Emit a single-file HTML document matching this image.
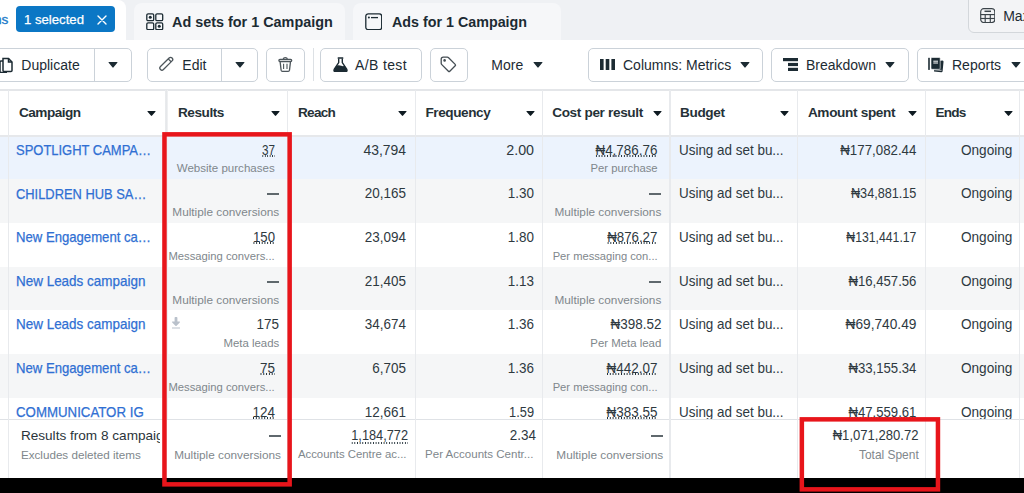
<!DOCTYPE html>
<html><head><meta charset="utf-8"><style>
html,body{margin:0;padding:0;}
body{width:1024px;height:493px;overflow:hidden;position:relative;background:#fff;font-family:"Liberation Sans", sans-serif;}
.a{position:absolute;white-space:nowrap;}
</style></head><body>
<div class="a" style="left:0px;top:0px;width:1024px;height:40px;background:#eff1f4;"></div>
<div class="a" style="left:0px;top:0px;width:126px;height:40px;background:#fff;border-top-right-radius:8px;"></div>
<div class="a " style="right:1015.7px;top:11.53px;font-size:13.6px;line-height:16.32px;color:#1877c8;-webkit-text-stroke:0.3px #1877c8;">ns</div>
<div class="a" style="left:16px;top:6px;width:99px;height:26px;background:#0b77c5;border-radius:4px;"></div>
<div class="a " style="left:24.1px;top:11.53px;font-size:13.6px;line-height:16.32px;color:#fff;-webkit-text-stroke:0.25px #fff;transform:scaleX(0.9679);transform-origin:left top;">1 selected</div>
<svg class="a" style="left:97px;top:15px" width="10" height="10" viewBox="0 0 10 10"><path d="M1 1L9 9M9 1L1 9" stroke="#fff" stroke-width="1.4" stroke-linecap="round"/></svg>
<div class="a" style="left:134px;top:2.5px;width:211.3px;height:37.5px;background:#f6f7f9;border-top-left-radius:8px;border-top-right-radius:8px;"></div>
<div class="a" style="left:353px;top:3px;width:208px;height:37px;background:#f6f7f9;border-top-left-radius:8px;border-top-right-radius:8px;"></div>
<svg class="a" style="left:146px;top:12.7px" width="17.5" height="17.5" viewBox="0 0 17.5 17.5" fill="none" stroke="#1c2b33" stroke-width="1.3"><rect x="0.8" y="0.8" width="6.9" height="6.9" rx="1.3"/><rect x="9.8" y="0.8" width="6.9" height="6.9" rx="1.3"/><rect x="0.8" y="9.8" width="6.9" height="6.9" rx="1.3"/><rect x="9.8" y="9.8" width="6.9" height="6.9" rx="1.3"/><circle cx="4.25" cy="4.25" r="1.5" fill="#1c2b33" stroke="none"/><circle cx="13.25" cy="13.25" r="1.5" fill="#1c2b33" stroke="none"/></svg>
<div class="a " style="left:172.4px;top:13.2px;font-size:15px;line-height:18.0px;color:#1c2b33;font-weight:bold;transform:scaleX(0.9599);transform-origin:left top;">Ad sets for 1 Campaign</div>
<svg class="a" style="left:364.8px;top:12.7px" width="17.5" height="17.5" viewBox="0 0 17.5 17.5" fill="none" stroke="#1c2b33" stroke-width="1.3"><rect x="0.8" y="0.8" width="15.9" height="15.9" rx="2.5"/><line x1="6" y1="4.6" x2="13" y2="4.6"/><circle cx="3.9" cy="4.6" r="1" fill="#1c2b33" stroke="none"/></svg>
<div class="a " style="left:391.5px;top:13.2px;font-size:15px;line-height:18.0px;color:#1c2b33;font-weight:bold;transform:scaleX(0.9529);transform-origin:left top;">Ads for 1 Campaign</div>
<div class="a" style="left:968.3px;top:-6px;width:70px;height:38.5px;background:#f3f4f6;border:1px solid #d3d7db;border-radius:6px;box-sizing:border-box;"></div>
<svg class="a" style="left:979.5px;top:7.8px" width="15.5" height="15.2" viewBox="0 0 15.5 15.2" fill="none" stroke="#3b444a" stroke-width="1.15"><rect x="0.7" y="0.7" width="14.1" height="13.8" rx="3"/><line x1="4.5" y1="3.3" x2="11" y2="3.3" stroke-width="1.5"/><line x1="0.7" y1="6.6" x2="14.8" y2="6.6"/><line x1="0.7" y1="10.5" x2="14.8" y2="10.5"/><line x1="5.2" y1="6.6" x2="5.2" y2="14.5"/><line x1="10.3" y1="6.6" x2="10.3" y2="14.5"/></svg>
<div class="a " style="left:1003.2px;top:8.35px;font-size:14px;line-height:16.8px;color:#1c2b33;">Max</div>
<div class="a" style="left:0px;top:40px;width:1024px;height:49px;background:#fff;"></div>
<div class="a" style="left:-10px;top:48px;width:141.6px;height:33.5px;border:1px solid #cbd2d9;border-radius:5px;box-sizing:border-box;background:#fff;"></div>
<div class="a" style="left:94px;top:48px;width:1px;height:33.5px;background:#cbd2d9;"></div>
<svg class="a" style="left:-2px;top:56px" width="16" height="17" viewBox="0 0 16 17" fill="none" stroke="#1c2b33" stroke-width="1.5"><path d="M5 2.5H10.5L14 6V14.5a1 1 0 0 1-1 1H6a1 1 0 0 1-1-1Z"/><path d="M10.5 2.5V6H14"/><path d="M5 5H3a1 1 0 0 0-1 1V15.5a1 1 0 0 0 1 1H9"/></svg>
<div class="a " style="left:21.3px;top:57.05px;font-size:14px;line-height:16.8px;color:#1c2b33;">Duplicate</div>
<svg class="a" style="left:108px;top:61.7px" width="10" height="6" viewBox="0 0 10 6"><path d="M1 0H9Q10 0 9.3 0.8L5.6 5.3Q5 6 4.4 5.3L0.7 0.8Q0 0 1 0Z" fill="#1c2b33"/></svg>
<div class="a" style="left:147.2px;top:48px;width:111.1px;height:33.5px;border:1px solid #cbd2d9;border-radius:5px;box-sizing:border-box;background:#fff;"></div>
<div class="a" style="left:221px;top:48px;width:1px;height:33.5px;background:#cbd2d9;"></div>
<svg class="a" style="left:158.4px;top:56px" width="16" height="16" viewBox="0 0 16 16" fill="none" stroke="#4d565b" stroke-width="1.3"><g transform="rotate(45 8 8)"><rect x="5.9" y="-0.6" width="4.2" height="16.4" rx="2.1"/><line x1="5.9" y1="2.8" x2="10.1" y2="2.8"/></g></svg>
<div class="a " style="left:182.3px;top:57.05px;font-size:14px;line-height:16.8px;color:#1c2b33;">Edit</div>
<svg class="a" style="left:235px;top:61.7px" width="10" height="6" viewBox="0 0 10 6"><path d="M1 0H9Q10 0 9.3 0.8L5.6 5.3Q5 6 4.4 5.3L0.7 0.8Q0 0 1 0Z" fill="#1c2b33"/></svg>
<div class="a" style="left:266px;top:48px;width:38.6px;height:33.5px;border:1px solid #cbd2d9;border-radius:5px;box-sizing:border-box;background:#fff;"></div>
<svg class="a" style="left:278px;top:57px" width="15" height="15" viewBox="0 0 15 15" fill="none" stroke="#4d565b" stroke-width="1.3" stroke-linejoin="round"><path d="M5.3 2.2Q5.5 0.7 7.3 0.7Q9.1 0.7 9.3 2.2"/><rect x="0.9" y="2.3" width="12.8" height="2.2" rx="1.1"/><path d="M2.1 4.6L3.1 13.2Q3.3 14.3 4.4 14.3H10.2Q11.3 14.3 11.5 13.2L12.5 4.6"/><path d="M5.6 6.8V12M9 6.8V12" stroke-width="1.1"/></svg>
<div class="a" style="left:313px;top:48px;width:1px;height:33px;background:#dde1e5;"></div>
<div class="a" style="left:320.4px;top:48px;width:101.4px;height:33.5px;border:1px solid #cbd2d9;border-radius:5px;box-sizing:border-box;background:#fff;"></div>
<svg class="a" style="left:333px;top:57px" width="15" height="15" viewBox="0 0 15 15"><rect x="4.6" y="0.2" width="5.8" height="1.6" rx="0.5" fill="#1c2b33"/><path d="M5.7 1.5V5.6L1.2 12.4Q0.4 14.6 2.6 14.6H12.4Q14.6 14.6 13.8 12.4L9.3 5.6V1.5" fill="none" stroke="#1c2b33" stroke-width="1.4"/><path d="M3.6 8.6Q6 7.6 8.2 8.8Q10 9.6 11.7 8.8L13.8 12.4Q14.6 14.6 12.4 14.6H2.6Q0.4 14.6 1.2 12.4Z" fill="#1c2b33"/></svg>
<div class="a " style="left:355.1px;top:57.05px;font-size:14px;line-height:16.8px;color:#1c2b33;letter-spacing:0.35px;">A/B test</div>
<div class="a" style="left:430.3px;top:48px;width:37.5px;height:33.5px;border:1px solid #cbd2d9;border-radius:5px;box-sizing:border-box;background:#fff;"></div>
<svg class="a" style="left:440.3px;top:56.3px" width="17" height="17" viewBox="0 0 17 17" fill="none" stroke="#444d53" stroke-width="1.3" stroke-linejoin="round"><path d="M1.2 3.2Q1.2 1.2 3.2 1.2H7.3Q8 1.2 8.6 1.8L15.2 8.4Q15.9 9.1 15.2 9.8L9.8 15.2Q9.1 15.9 8.4 15.2L1.8 8.6Q1.2 8 1.2 7.3Z"/><circle cx="4.6" cy="4.4" r="1.3" fill="#444d53" stroke="none"/></svg>
<div class="a " style="left:491.3px;top:57.05px;font-size:14px;line-height:16.8px;color:#1c2b33;">More</div>
<svg class="a" style="left:533px;top:61.7px" width="10" height="6" viewBox="0 0 10 6"><path d="M1 0H9Q10 0 9.3 0.8L5.6 5.3Q5 6 4.4 5.3L0.7 0.8Q0 0 1 0Z" fill="#1c2b33"/></svg>
<div class="a" style="left:588.2px;top:48px;width:174.4px;height:33.5px;border:1px solid #cbd2d9;border-radius:5px;box-sizing:border-box;background:#fff;"></div>
<svg class="a" style="left:600px;top:59px" width="15" height="11" viewBox="0 0 15 11"><rect x="0" y="0" width="3.6" height="11" fill="#1c2b33"/><rect x="5.7" y="0" width="3.6" height="11" fill="#1c2b33"/><rect x="11.4" y="0" width="3.6" height="11" fill="#1c2b33"/></svg>
<div class="a " style="left:623px;top:57.05px;font-size:14px;line-height:16.8px;color:#1c2b33;">Columns: Metrics</div>
<svg class="a" style="left:739.5px;top:61.7px" width="10" height="6" viewBox="0 0 10 6"><path d="M1 0H9Q10 0 9.3 0.8L5.6 5.3Q5 6 4.4 5.3L0.7 0.8Q0 0 1 0Z" fill="#1c2b33"/></svg>
<div class="a" style="left:771px;top:48px;width:137.8px;height:33.5px;border:1px solid #cbd2d9;border-radius:5px;box-sizing:border-box;background:#fff;"></div>
<svg class="a" style="left:782.5px;top:58px" width="15" height="13" viewBox="0 0 15 13"><rect x="0" y="0" width="15" height="3.2" fill="#1c2b33"/><rect x="5" y="4.9" width="10" height="3.2" fill="#1c2b33"/><rect x="5" y="9.8" width="10" height="3.2" fill="#1c2b33"/></svg>
<div class="a " style="left:805.9px;top:57.05px;font-size:14px;line-height:16.8px;color:#1c2b33;">Breakdown</div>
<svg class="a" style="left:885.3px;top:61.7px" width="10" height="6" viewBox="0 0 10 6"><path d="M1 0H9Q10 0 9.3 0.8L5.6 5.3Q5 6 4.4 5.3L0.7 0.8Q0 0 1 0Z" fill="#1c2b33"/></svg>
<div class="a" style="left:917.3px;top:48px;width:120px;height:33.5px;border:1px solid #cbd2d9;border-radius:5px;box-sizing:border-box;background:#fff;"></div>
<svg class="a" style="left:928px;top:56.5px" width="16" height="16" viewBox="0 0 16 16"><path d="M6.5 4.5L14.5 3.5Q15.8 3.6 15.5 5L14.6 14.3Q14.4 15.3 13.3 15.2L6 14.6Z" fill="#1c2b33"/><path d="M5 12.6L13.5 13.3" stroke="#fff" stroke-width="0.8"/><rect x="0.2" y="0.7" width="1.6" height="12.2" rx="0.4" fill="#1c2b33"/><rect x="3" y="0.5" width="9.2" height="11.8" rx="1" fill="#1c2b33" stroke="#fff" stroke-width="0.6"/><path d="M5.3 4.2H10M5.3 6H10" stroke="#fff" stroke-width="1"/></svg>
<div class="a " style="left:952px;top:57.05px;font-size:14px;line-height:16.8px;color:#1c2b33;">Reports</div>
<svg class="a" style="left:1011.4px;top:61.7px" width="10" height="6" viewBox="0 0 10 6"><path d="M1 0H9Q10 0 9.3 0.8L5.6 5.3Q5 6 4.4 5.3L0.7 0.8Q0 0 1 0Z" fill="#1c2b33"/></svg>
<div class="a" style="left:0px;top:89px;width:1024px;height:2px;background:#e4e6e9;"></div>
<div class="a" style="left:0px;top:136.6px;width:1024px;height:42.1px;background:#ecf3fd;"></div>
<div class="a" style="left:0px;top:178.7px;width:1024px;height:44.0px;background:#f5f6f7;"></div>
<div class="a" style="left:0px;top:222.7px;width:1024px;height:44.1px;background:#fff;"></div>
<div class="a" style="left:0px;top:266.8px;width:1024px;height:43.7px;background:#f5f6f7;"></div>
<div class="a" style="left:0px;top:310.5px;width:1024px;height:43.9px;background:#fff;"></div>
<div class="a" style="left:0px;top:354.4px;width:1024px;height:43.7px;background:#f5f6f7;"></div>
<div class="a" style="left:0px;top:398.1px;width:1024px;height:20.9px;background:#fff;"></div>
<div class="a" style="left:0px;top:134.9px;width:1024px;height:1.8px;background:#e6e8eb;"></div>
<div class="a" style="left:7.800000000000001px;top:90px;width:1.2px;height:388px;background:#e8eaed;"></div>
<div class="a" style="left:165.2px;top:90px;width:3px;height:388px;background:linear-gradient(90deg,#eceef0,#e3e5e8 40%,#f3f4f5);"></div>
<div class="a" style="left:286.79999999999995px;top:90px;width:1.2px;height:388px;background:#e8eaed;"></div>
<div class="a" style="left:414.59999999999997px;top:90px;width:1.2px;height:388px;background:#e8eaed;"></div>
<div class="a" style="left:542.0px;top:90px;width:1.2px;height:388px;background:#e8eaed;"></div>
<div class="a" style="left:669.4px;top:90px;width:1.2px;height:388px;background:#e8eaed;"></div>
<div class="a" style="left:796.9px;top:90px;width:1.2px;height:388px;background:#e8eaed;"></div>
<div class="a" style="left:924.6999999999999px;top:90px;width:1.2px;height:388px;background:#e8eaed;"></div>
<div class="a" style="left:1018.9px;top:90px;width:1.2px;height:388px;background:#e8eaed;"></div>
<div class="a " style="left:18.9px;top:104.63px;font-size:13.6px;line-height:16.32px;color:#253137;font-weight:bold;letter-spacing:-0.492px;">Campaign</div>
<svg class="a" style="left:147.3px;top:111px" width="9" height="5.2" viewBox="0 0 9 5.2"><path d="M0.9 0H8.1Q9 0 8.4 0.7L5.1 4.6Q4.5 5.3 3.9 4.6L0.6 0.7Q0 0 0.9 0Z" fill="#0f1b22"/></svg>
<div class="a " style="left:178px;top:104.63px;font-size:13.6px;line-height:16.32px;color:#253137;font-weight:bold;letter-spacing:-0.446px;">Results</div>
<svg class="a" style="left:270.7px;top:111px" width="9" height="5.2" viewBox="0 0 9 5.2"><path d="M0.9 0H8.1Q9 0 8.4 0.7L5.1 4.6Q4.5 5.3 3.9 4.6L0.6 0.7Q0 0 0.9 0Z" fill="#0f1b22"/></svg>
<div class="a " style="left:298px;top:104.63px;font-size:13.6px;line-height:16.32px;color:#253137;font-weight:bold;letter-spacing:-0.743px;">Reach</div>
<svg class="a" style="left:398.2px;top:111px" width="9" height="5.2" viewBox="0 0 9 5.2"><path d="M0.9 0H8.1Q9 0 8.4 0.7L5.1 4.6Q4.5 5.3 3.9 4.6L0.6 0.7Q0 0 0.9 0Z" fill="#0f1b22"/></svg>
<div class="a " style="left:425.5px;top:104.63px;font-size:13.6px;line-height:16.32px;color:#253137;font-weight:bold;letter-spacing:-0.43px;">Frequency</div>
<svg class="a" style="left:526.2px;top:111px" width="9" height="5.2" viewBox="0 0 9 5.2"><path d="M0.9 0H8.1Q9 0 8.4 0.7L5.1 4.6Q4.5 5.3 3.9 4.6L0.6 0.7Q0 0 0.9 0Z" fill="#0f1b22"/></svg>
<div class="a " style="left:552.2px;top:104.63px;font-size:13.6px;line-height:16.32px;color:#253137;font-weight:bold;letter-spacing:-0.345px;">Cost per result</div>
<svg class="a" style="left:652.7px;top:111px" width="9" height="5.2" viewBox="0 0 9 5.2"><path d="M0.9 0H8.1Q9 0 8.4 0.7L5.1 4.6Q4.5 5.3 3.9 4.6L0.6 0.7Q0 0 0.9 0Z" fill="#0f1b22"/></svg>
<div class="a " style="left:680px;top:104.63px;font-size:13.6px;line-height:16.32px;color:#253137;font-weight:bold;letter-spacing:-0.355px;">Budget</div>
<svg class="a" style="left:780.2px;top:111px" width="9" height="5.2" viewBox="0 0 9 5.2"><path d="M0.9 0H8.1Q9 0 8.4 0.7L5.1 4.6Q4.5 5.3 3.9 4.6L0.6 0.7Q0 0 0.9 0Z" fill="#0f1b22"/></svg>
<div class="a " style="left:807.9px;top:104.63px;font-size:13.6px;line-height:16.32px;color:#253137;font-weight:bold;letter-spacing:-0.334px;">Amount spent</div>
<svg class="a" style="left:908.2px;top:111px" width="9" height="5.2" viewBox="0 0 9 5.2"><path d="M0.9 0H8.1Q9 0 8.4 0.7L5.1 4.6Q4.5 5.3 3.9 4.6L0.6 0.7Q0 0 0.9 0Z" fill="#0f1b22"/></svg>
<div class="a " style="left:935.6px;top:104.63px;font-size:13.6px;line-height:16.32px;color:#253137;font-weight:bold;letter-spacing:-0.812px;">Ends</div>
<svg class="a" style="left:1003.7px;top:111px" width="9" height="5.2" viewBox="0 0 9 5.2"><path d="M0.9 0H8.1Q9 0 8.4 0.7L5.1 4.6Q4.5 5.3 3.9 4.6L0.6 0.7Q0 0 0.9 0Z" fill="#0f1b22"/></svg>
<div class="a " style="left:15.9px;top:141.86px;font-size:14.2px;line-height:17.04px;color:#2f6fd3;-webkit-text-stroke:0.25px #2f6fd3;transform:scaleX(0.914);transform-origin:left top;">SPOTLIGHT CAMPA…</div>
<div class="a " style="right:749.3px;top:141.67px;font-size:14.4px;line-height:17.28px;color:#2e393f;transform:scaleX(0.8117);transform-origin:right top;"><span style="display:inline-block;background-image:linear-gradient(90deg,#1c2b33 1.3px,transparent 1.3px);background-size:3px 1.5px;background-repeat:repeat-x;background-position:0.5px 13.03px">37</span></div>
<div class="a " style="right:749.3px;top:161.97px;font-size:11.55px;line-height:13.86px;color:#80878c;">Website purchases</div>
<div class="a " style="right:366.4px;top:141.67px;font-size:14.4px;line-height:17.28px;color:#2e393f;transform:scaleX(0.9331);transform-origin:right top;"><span style="display:inline-block;background-image:linear-gradient(90deg,#1c2b33 1.3px,transparent 1.3px);background-size:3px 1.5px;background-repeat:repeat-x;background-position:0.5px 13.03px">₦4,786.76</span></div>
<div class="a " style="right:366.4px;top:162.23px;font-size:11.27px;line-height:13.52px;color:#80878c;">Per purchase</div>
<div class="a " style="right:617.6px;top:141.67px;font-size:14.4px;line-height:17.28px;color:#2e393f;transform:scaleX(0.9673);transform-origin:right top;">43,794</div>
<div class="a " style="right:490px;top:141.67px;font-size:14.4px;line-height:17.28px;color:#2e393f;transform:scaleX(0.992);transform-origin:right top;">2.00</div>
<div class="a " style="left:678.5px;top:141.67px;font-size:14.4px;line-height:17.28px;color:#2e393f;transform:scaleX(0.9335);transform-origin:left top;">Using ad set bu...</div>
<div class="a " style="right:107.3px;top:141.67px;font-size:14.4px;line-height:17.28px;color:#2e393f;transform:scaleX(0.9241);transform-origin:right top;">₦177,082.44</div>
<div class="a " style="right:12px;top:141.67px;font-size:14.4px;line-height:17.28px;color:#2e393f;transform:scaleX(0.946);transform-origin:right top;">Ongoing</div>
<div class="a " style="left:15.9px;top:185.51px;font-size:14.2px;line-height:17.04px;color:#2f6fd3;-webkit-text-stroke:0.25px #2f6fd3;transform:scaleX(0.9081);transform-origin:left top;">CHILDREN HUB SA…</div>
<div class="a" style="left:267px;top:193px;width:12px;height:2px;background:#5f686d;"></div>
<div class="a " style="right:744.8px;top:205.38px;font-size:11.8px;line-height:14.16px;color:#80878c;">Multiple conversions</div>
<div class="a" style="left:649px;top:193px;width:12px;height:2px;background:#5f686d;"></div>
<div class="a " style="right:362.7px;top:205.38px;font-size:11.8px;line-height:14.16px;color:#80878c;">Multiple conversions</div>
<div class="a " style="right:617.6px;top:185.32px;font-size:14.4px;line-height:17.28px;color:#2e393f;transform:scaleX(0.935);transform-origin:right top;">20,165</div>
<div class="a " style="right:490px;top:185.32px;font-size:14.4px;line-height:17.28px;color:#2e393f;transform:scaleX(0.935);transform-origin:right top;">1.30</div>
<div class="a " style="left:678.5px;top:185.32px;font-size:14.4px;line-height:17.28px;color:#2e393f;transform:scaleX(0.9335);transform-origin:left top;">Using ad set bu...</div>
<div class="a " style="right:107.3px;top:185.32px;font-size:14.4px;line-height:17.28px;color:#2e393f;transform:scaleX(0.8797);transform-origin:right top;">₦34,881.15</div>
<div class="a " style="right:12px;top:185.32px;font-size:14.4px;line-height:17.28px;color:#2e393f;transform:scaleX(0.946);transform-origin:right top;">Ongoing</div>
<div class="a " style="left:15.9px;top:229.16px;font-size:14.2px;line-height:17.04px;color:#2f6fd3;-webkit-text-stroke:0.25px #2f6fd3;transform:scaleX(0.9253);transform-origin:left top;">New Engagement ca…</div>
<div class="a " style="right:749.3px;top:228.97px;font-size:14.4px;line-height:17.28px;color:#2e393f;transform:scaleX(0.9158);transform-origin:right top;"><span style="display:inline-block;background-image:linear-gradient(90deg,#1c2b33 1.3px,transparent 1.3px);background-size:3px 1.5px;background-repeat:repeat-x;background-position:0.5px 13.03px">150</span></div>
<div class="a " style="right:749.3px;top:249.55px;font-size:11.25px;line-height:13.5px;color:#80878c;">Messaging convers...</div>
<div class="a " style="right:366.4px;top:228.97px;font-size:14.4px;line-height:17.28px;color:#2e393f;transform:scaleX(0.924);transform-origin:right top;"><span style="display:inline-block;background-image:linear-gradient(90deg,#1c2b33 1.3px,transparent 1.3px);background-size:3px 1.5px;background-repeat:repeat-x;background-position:0.5px 13.03px">₦876.27</span></div>
<div class="a " style="right:366.4px;top:249.62px;font-size:11.18px;line-height:13.42px;color:#80878c;">Per messaging con...</div>
<div class="a " style="right:617.6px;top:228.97px;font-size:14.4px;line-height:17.28px;color:#2e393f;transform:scaleX(0.935);transform-origin:right top;">23,094</div>
<div class="a " style="right:490px;top:228.97px;font-size:14.4px;line-height:17.28px;color:#2e393f;transform:scaleX(0.935);transform-origin:right top;">1.80</div>
<div class="a " style="left:678.5px;top:228.97px;font-size:14.4px;line-height:17.28px;color:#2e393f;transform:scaleX(0.9335);transform-origin:left top;">Using ad set bu...</div>
<div class="a " style="right:107.3px;top:228.97px;font-size:14.4px;line-height:17.28px;color:#2e393f;transform:scaleX(0.8501);transform-origin:right top;">₦131,441.17</div>
<div class="a " style="right:12px;top:228.97px;font-size:14.4px;line-height:17.28px;color:#2e393f;transform:scaleX(0.946);transform-origin:right top;">Ongoing</div>
<div class="a " style="left:15.9px;top:272.81px;font-size:14.2px;line-height:17.04px;color:#2f6fd3;-webkit-text-stroke:0.25px #2f6fd3;transform:scaleX(0.9484);transform-origin:left top;">New Leads campaign</div>
<div class="a" style="left:267px;top:281px;width:12px;height:2px;background:#5f686d;"></div>
<div class="a " style="right:744.8px;top:292.68px;font-size:11.8px;line-height:14.16px;color:#80878c;">Multiple conversions</div>
<div class="a" style="left:649px;top:281px;width:12px;height:2px;background:#5f686d;"></div>
<div class="a " style="right:362.7px;top:292.68px;font-size:11.8px;line-height:14.16px;color:#80878c;">Multiple conversions</div>
<div class="a " style="right:617.6px;top:272.62px;font-size:14.4px;line-height:17.28px;color:#2e393f;transform:scaleX(0.935);transform-origin:right top;">21,405</div>
<div class="a " style="right:490px;top:272.62px;font-size:14.4px;line-height:17.28px;color:#2e393f;transform:scaleX(0.935);transform-origin:right top;">1.13</div>
<div class="a " style="left:678.5px;top:272.62px;font-size:14.4px;line-height:17.28px;color:#2e393f;transform:scaleX(0.9335);transform-origin:left top;">Using ad set bu...</div>
<div class="a " style="right:107.3px;top:272.62px;font-size:14.4px;line-height:17.28px;color:#2e393f;transform:scaleX(0.9133);transform-origin:right top;">₦16,457.56</div>
<div class="a " style="right:12px;top:272.62px;font-size:14.4px;line-height:17.28px;color:#2e393f;transform:scaleX(0.946);transform-origin:right top;">Ongoing</div>
<div class="a " style="left:15.9px;top:316.46px;font-size:14.2px;line-height:17.04px;color:#2f6fd3;-webkit-text-stroke:0.25px #2f6fd3;transform:scaleX(0.9484);transform-origin:left top;">New Leads campaign</div>
<div class="a " style="right:744.8px;top:316.27px;font-size:14.4px;line-height:17.28px;color:#2e393f;transform:scaleX(0.935);transform-origin:right top;">175</div>
<div class="a " style="right:744.8px;top:336.7px;font-size:11.41px;line-height:13.69px;color:#80878c;">Meta leads</div>
<div class="a " style="right:362.7px;top:316.27px;font-size:14.4px;line-height:17.28px;color:#2e393f;transform:scaleX(0.935);transform-origin:right top;">₦398.52</div>
<div class="a " style="right:362.7px;top:336.7px;font-size:11.41px;line-height:13.69px;color:#80878c;">Per Meta lead</div>
<div class="a " style="right:617.6px;top:316.27px;font-size:14.4px;line-height:17.28px;color:#2e393f;transform:scaleX(0.935);transform-origin:right top;">34,674</div>
<div class="a " style="right:490px;top:316.27px;font-size:14.4px;line-height:17.28px;color:#2e393f;transform:scaleX(0.935);transform-origin:right top;">1.36</div>
<div class="a " style="left:678.5px;top:316.27px;font-size:14.4px;line-height:17.28px;color:#2e393f;transform:scaleX(0.9335);transform-origin:left top;">Using ad set bu...</div>
<div class="a " style="right:107.3px;top:316.27px;font-size:14.4px;line-height:17.28px;color:#2e393f;transform:scaleX(0.9523);transform-origin:right top;">₦69,740.49</div>
<div class="a " style="right:12px;top:316.27px;font-size:14.4px;line-height:17.28px;color:#2e393f;transform:scaleX(0.946);transform-origin:right top;">Ongoing</div>
<div class="a " style="left:15.9px;top:360.11px;font-size:14.2px;line-height:17.04px;color:#2f6fd3;-webkit-text-stroke:0.25px #2f6fd3;transform:scaleX(0.9253);transform-origin:left top;">New Engagement ca…</div>
<div class="a " style="right:749.3px;top:359.92px;font-size:14.4px;line-height:17.28px;color:#2e393f;transform:scaleX(0.935);transform-origin:right top;"><span style="display:inline-block;background-image:linear-gradient(90deg,#1c2b33 1.3px,transparent 1.3px);background-size:3px 1.5px;background-repeat:repeat-x;background-position:0.5px 13.03px">75</span></div>
<div class="a " style="right:749.3px;top:380.5px;font-size:11.25px;line-height:13.5px;color:#80878c;">Messaging convers...</div>
<div class="a " style="right:366.4px;top:359.92px;font-size:14.4px;line-height:17.28px;color:#2e393f;transform:scaleX(0.935);transform-origin:right top;"><span style="display:inline-block;background-image:linear-gradient(90deg,#1c2b33 1.3px,transparent 1.3px);background-size:3px 1.5px;background-repeat:repeat-x;background-position:0.5px 13.03px">₦442.07</span></div>
<div class="a " style="right:366.4px;top:380.57px;font-size:11.18px;line-height:13.42px;color:#80878c;">Per messaging con...</div>
<div class="a " style="right:617.6px;top:359.92px;font-size:14.4px;line-height:17.28px;color:#2e393f;transform:scaleX(0.935);transform-origin:right top;">6,705</div>
<div class="a " style="right:490px;top:359.92px;font-size:14.4px;line-height:17.28px;color:#2e393f;transform:scaleX(0.935);transform-origin:right top;">1.36</div>
<div class="a " style="left:678.5px;top:359.92px;font-size:14.4px;line-height:17.28px;color:#2e393f;transform:scaleX(0.9335);transform-origin:left top;">Using ad set bu...</div>
<div class="a " style="right:107.3px;top:359.92px;font-size:14.4px;line-height:17.28px;color:#2e393f;transform:scaleX(0.9133);transform-origin:right top;">₦33,155.34</div>
<div class="a " style="right:12px;top:359.92px;font-size:14.4px;line-height:17.28px;color:#2e393f;transform:scaleX(0.946);transform-origin:right top;">Ongoing</div>
<div class="a " style="left:15.9px;top:403.76px;font-size:14.2px;line-height:17.04px;color:#2f6fd3;-webkit-text-stroke:0.25px #2f6fd3;transform:scaleX(0.9347);transform-origin:left top;">COMMUNICATOR IG</div>
<div class="a " style="right:749.3px;top:403.57px;font-size:14.4px;line-height:17.28px;color:#2e393f;transform:scaleX(0.935);transform-origin:right top;"><span style="display:inline-block;background-image:linear-gradient(90deg,#1c2b33 1.3px,transparent 1.3px);background-size:3px 1.5px;background-repeat:repeat-x;background-position:0.5px 13.03px">124</span></div>
<div class="a " style="right:366.4px;top:403.57px;font-size:14.4px;line-height:17.28px;color:#2e393f;transform:scaleX(0.935);transform-origin:right top;"><span style="display:inline-block;background-image:linear-gradient(90deg,#1c2b33 1.3px,transparent 1.3px);background-size:3px 1.5px;background-repeat:repeat-x;background-position:0.5px 13.03px">₦383.55</span></div>
<div class="a " style="right:617.6px;top:403.57px;font-size:14.4px;line-height:17.28px;color:#2e393f;transform:scaleX(0.935);transform-origin:right top;">12,661</div>
<div class="a " style="right:490px;top:403.57px;font-size:14.4px;line-height:17.28px;color:#2e393f;transform:scaleX(0.8885);transform-origin:right top;">1.59</div>
<div class="a " style="left:678.5px;top:403.57px;font-size:14.4px;line-height:17.28px;color:#2e393f;transform:scaleX(0.9335);transform-origin:left top;">Using ad set bu...</div>
<div class="a " style="right:107.3px;top:403.57px;font-size:14.4px;line-height:17.28px;color:#2e393f;transform:scaleX(0.9133);transform-origin:right top;"><span style="display:inline-block;background-image:linear-gradient(90deg,#1c2b33 1.3px,transparent 1.3px);background-size:3px 1.5px;background-repeat:repeat-x;background-position:0.5px 13.03px">₦47,559.61</span></div>
<div class="a " style="right:12px;top:403.57px;font-size:14.4px;line-height:17.28px;color:#2e393f;transform:scaleX(0.946);transform-origin:right top;">Ongoing</div>
<svg class="a" style="left:170.5px;top:317.2px" width="10" height="12" viewBox="0 0 10 12"><path d="M3.6 0.8Q3.6 0 4.4 0H5.6Q6.4 0 6.4 0.8V4.6H8.4Q9.4 4.7 8.8 5.5L5.6 8.8Q5 9.4 4.4 8.8L1.2 5.5Q0.6 4.7 1.6 4.6H3.6Z M1 10.4H9V11.6H1Z" fill="#b9c1cb"/></svg>
<div class="a" style="left:0px;top:418.5px;width:1024px;height:59.499999999999986px;background:#fff;"></div>
<div class="a" style="left:0px;top:418.5px;width:1024px;height:1.6px;background:#dfe2e6;"></div>
<div class="a" style="left:7.800000000000001px;top:419.3px;width:1.2px;height:58.69999999999999px;background:#e8eaed;"></div>
<div class="a" style="left:165.8px;top:419.3px;width:1.2px;height:58.69999999999999px;background:#e8eaed;"></div>
<div class="a" style="left:286.79999999999995px;top:419.3px;width:1.2px;height:58.69999999999999px;background:#e8eaed;"></div>
<div class="a" style="left:414.59999999999997px;top:419.3px;width:1.2px;height:58.69999999999999px;background:#e8eaed;"></div>
<div class="a" style="left:542.0px;top:419.3px;width:1.2px;height:58.69999999999999px;background:#e8eaed;"></div>
<div class="a" style="left:669.4px;top:419.3px;width:1.2px;height:58.69999999999999px;background:#e8eaed;"></div>
<div class="a" style="left:796.9px;top:419.3px;width:1.2px;height:58.69999999999999px;background:#e8eaed;"></div>
<div class="a" style="left:924.6999999999999px;top:419.3px;width:1.2px;height:58.69999999999999px;background:#e8eaed;"></div>
<div class="a" style="left:1018.9px;top:419.3px;width:1.2px;height:58.69999999999999px;background:#e8eaed;"></div>
<div class="a" style="left:20.9px;top:427.83px;width:139px;overflow:hidden;font-size:13.6px;line-height:16.32px;color:#2a343a">Results from 8 campaigns</div>
<div class="a " style="left:20.9px;top:448.15px;font-size:11.67px;line-height:14.0px;color:#80878c;">Excludes deleted items</div>
<div class="a" style="left:269px;top:435px;width:12px;height:2px;background:#5f686d;"></div>
<div class="a " style="right:743px;top:448.03px;font-size:11.8px;line-height:14.16px;color:#80878c;">Multiple conversions</div>
<div class="a " style="right:615.8px;top:427.07px;font-size:14.4px;line-height:17.28px;color:#2e393f;transform:scaleX(0.8867);transform-origin:right top;"><span style="display:inline-block;background-image:linear-gradient(90deg,#1c2b33 1.3px,transparent 1.3px);background-size:3px 1.5px;background-repeat:repeat-x;background-position:0.5px 15.23px">1,184,772</span></div>
<div class="a " style="right:617.5px;top:448.44px;font-size:11.37px;line-height:13.64px;color:#80878c;">Accounts Centre ac...</div>
<div class="a " style="right:488.3px;top:427.07px;font-size:14.4px;line-height:17.28px;color:#2e393f;transform:scaleX(0.935);transform-origin:right top;">2.34</div>
<div class="a " style="right:490.6px;top:448.28px;font-size:11.54px;line-height:13.85px;color:#80878c;">Per Accounts Centr...</div>
<div class="a" style="left:651px;top:435px;width:12px;height:2px;background:#5f686d;"></div>
<div class="a " style="right:360.8px;top:448.03px;font-size:11.8px;line-height:14.16px;color:#80878c;">Multiple conversions</div>
<div class="a " style="right:105.3px;top:427.07px;font-size:14.4px;line-height:17.28px;color:#2e393f;transform:scaleX(0.9082);transform-origin:right top;">₦1,071,280.72</div>
<div class="a " style="right:105.3px;top:447.89px;font-size:11.95px;line-height:14.34px;color:#80878c;">Total Spent</div>
<div class="a" style="left:0px;top:477.8px;width:1024px;height:16px;background:#000;"></div>
<svg class="a" style="left:0;top:0" width="1024" height="493" viewBox="0 0 1024 493" fill="none" stroke="#e8151b" stroke-width="4.5"><rect x="164.45" y="134.35" width="125.2" height="350" /><rect x="801.85" y="419.35" width="136.1" height="70" /></svg>
</body></html>
